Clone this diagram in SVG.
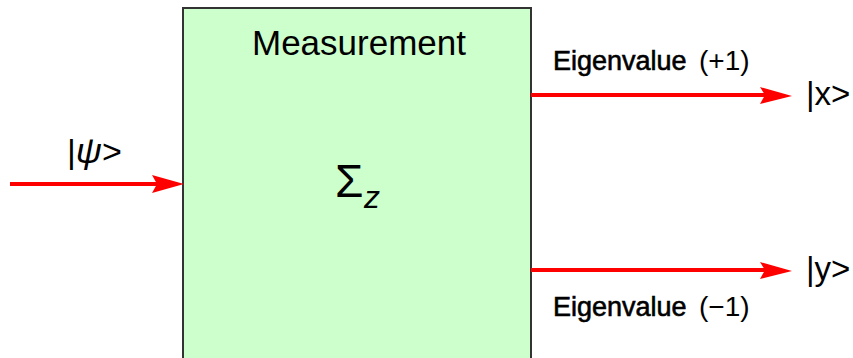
<svg xmlns="http://www.w3.org/2000/svg" width="853" height="358" viewBox="0 0 853 358">
<style>
.t{font-family:"Liberation Sans",Arial,sans-serif;fill:#000}
.ev{font-size:27px;stroke:#000;stroke-width:0.6}
.ln{stroke:#ff0000;stroke-width:4;fill:none}
.hd{fill:#ff0000}
</style>
<rect width="853" height="358" fill="#fff"/>
<g id="measurement">
<rect x="183" y="8" width="348" height="360" fill="#ccffcc" stroke="#333" stroke-width="2"/>
<text class="t" x="359" y="55" font-size="35" text-anchor="middle">Measurement</text>
<text class="t" x="335" y="197" font-size="46">Σ</text>
<text class="t" x="364" y="208" font-size="32" font-style="italic">z</text>
</g>
<g id="input-label">
<text class="t" x="67" y="163" font-size="34">|<tspan font-style="italic" font-size="36">ψ</tspan>&gt;</text>
</g>
<g id="out-x">
<text class="t" x="806" y="105" font-size="33">|x&gt;</text>
</g>
<g id="out-y">
<text class="t" x="806" y="280" font-size="33">|y&gt;</text>
</g>
<g id="connectors">
<line class="ln" x1="10" y1="184" x2="160" y2="184"/>
<path class="hd" d="M152,175 L184,184 L152,193 L157,184 Z"/>
<line class="ln" x1="531" y1="95" x2="768" y2="95"/>
<path class="hd" d="M760,87 L792,96 L760,104 L765,95 Z"/>
<text class="t" x="553" y="70"><tspan class="ev">Eigenvalue</tspan><tspan x="699" font-size="28">(+1)</tspan></text>
<line class="ln" x1="531" y1="270" x2="768" y2="270"/>
<path class="hd" d="M760,262 L792,271 L760,279 L765,270 Z"/>
<text class="t" x="553" y="316"><tspan class="ev">Eigenvalue</tspan><tspan x="699" font-size="28">(−1)</tspan></text>
</g>
</svg>
